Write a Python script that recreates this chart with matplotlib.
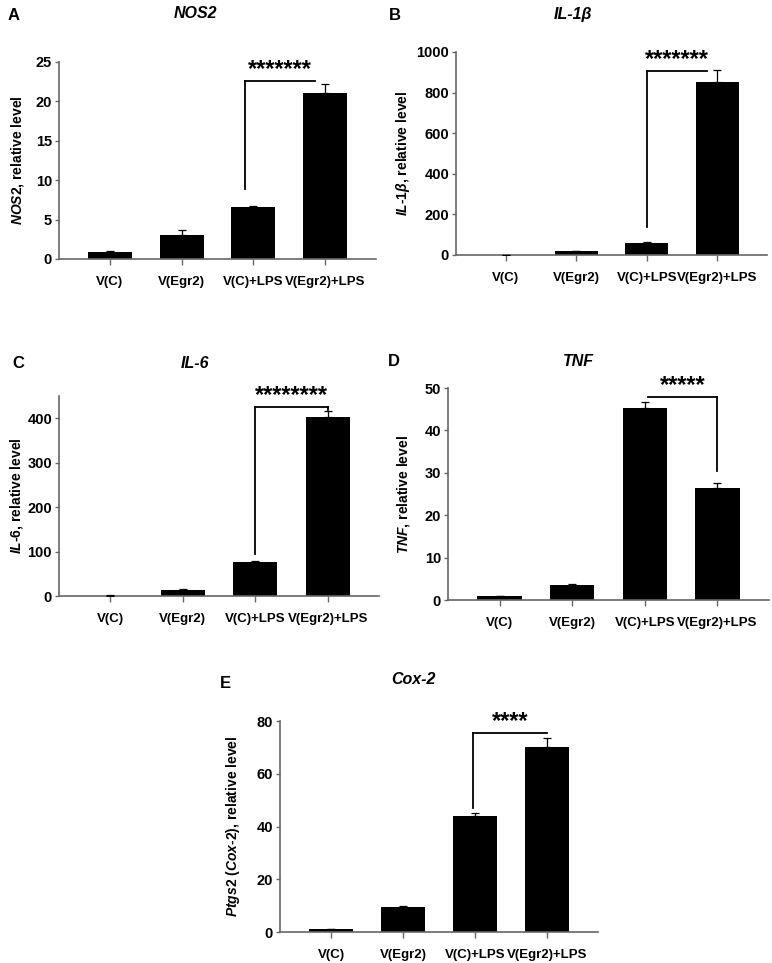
import numpy as np
import matplotlib
matplotlib.use("Agg")
import matplotlib.pyplot as plt

plt.rcParams['font.family'] = ['Liberation Sans', 'DejaVu Sans']
plt.rcParams['font.weight'] = 'bold'
plt.rcParams['mathtext.fontset'] = 'custom'
plt.rcParams['mathtext.it'] = 'Liberation Sans:italic:bold'
plt.rcParams['mathtext.rm'] = 'Liberation Sans:bold'
plt.rcParams['mathtext.bf'] = 'Liberation Sans:bold'

W, H = 772, 963

# data
groups = ['V(C)', 'V(Egr2)', 'V(C)+LPS', 'V(Egr2)+LPS']
nos2 = [0.93, 3.1, 6.55, 21.1]
nos2_err = [0.05, 0.6, 0.12, 1.05]
il1b = [1.0, 20, 60, 850]
il1b_err = [0.5, 2, 4, 60]
il6 = [1.0, 14, 76, 403]
il6_err = [0.2, 1.5, 3, 14]
tnf = [1.0, 3.6, 45.2, 26.4]
tnf_err = [0.05, 0.15, 1.4, 1.1]
cox2 = [1.1, 9.5, 44.0, 70.0]
cox2_err = [0.1, 0.5, 1.0, 3.7]

panels = [
    # letter, title, ylabel, values, errors, ylim, yticks, stars, bracket (x0, x1, ytop, y_left, y_right)
    ('A', 'NOS2', r'$\it{NOS2}$, relative level', nos2, nos2_err, 25, np.arange(0, 26, 5),
     '*******', (1.89, 2.86, 22.6, 8.9, None)),
    ('B', 'IL-1β', r'$\it{IL}$-$\it{1β}$, relative level', il1b, il1b_err, 1000, np.arange(0, 1001, 200),
     '*******', (2.0, 2.86, 907, 138, None)),
    ('C', 'IL-6', r'$\it{IL}$-$\it{6}$, relative level', il6, il6_err, 450, np.arange(0, 401, 100),
     '********', (2.0, 3.0, 425, 94, 418)),
    ('D', 'TNF', r'$\it{TNF}$, relative level', tnf, tnf_err, 50, np.arange(0, 51, 10),
     '*****', (2.04, 3.0, 47.9, None, 30.4)),
    ('E', 'Cox-2', r'$\it{Ptgs2}$ $\it{(Cox}$-$\it{2)}$, relative level', cox2, cox2_err, 80, np.arange(0, 81, 20),
     '****', (1.97, 3.0, 75.6, 47, None)),
]

# pixel boxes: left, right, top, bottom ; ylabel x ; letter (x, y) ; title (x, y)
boxes = [
    ((59, 376, 62, 259), 18, (14, 15), (195, 13)),
    ((456, 767, 52, 255), 403, (395, 15), (573, 15)),
    ((59, 379, 396, 596), 17, (18, 363), (195, 363)),
    ((448, 769, 388, 600), 404, (394, 362), (578, 362)),
    ((280, 598, 721, 932), 233, (225, 683), (413, 680)),
]

fig = plt.figure(figsize=(W / 100, H / 100), dpi=100)

def fx(px):
    return px / W

def fy(py):
    return 1 - py / H

x = np.arange(len(groups))
for (letter, title, ylabel, vals, errs, ytop, yticks, stars, br), (box, ylx, lpos, tpos) in zip(panels, boxes):
    l, r, t, b = box
    ax = fig.add_axes([fx(l), fy(b), fx(r - l), (b - t) / H])
    ax.bar(x, vals, width=0.61, color='black', zorder=2)
    ax.errorbar(x, vals, yerr=[np.zeros(len(errs)), errs], fmt='none', ecolor='black',
                elinewidth=0.9, capsize=3, capthick=0.9, zorder=3)
    ax.set_xlim(-0.71, 3.71)
    ax.set_ylim(0, ytop)
    ax.set_yticks(yticks)
    ax.set_xticks(x)
    ax.set_xticklabels(groups, fontsize=9.5, fontweight='bold')
    ax.tick_params(axis='y', labelsize=10.5, length=3, width=1, color='#666666', pad=2)
    ax.tick_params(axis='x', length=4, width=1, color='#666666', pad=8)
    for s in ['top', 'right']:
        ax.spines[s].set_visible(False)
    for s in ['left', 'bottom']:
        ax.spines[s].set_color('#666666')
        ax.spines[s].set_linewidth(1.2)

    # significance bracket
    x0, x1, yt, yl, yr = br
    ax.plot([x0, x1], [yt, yt], color='black', lw=1.3, zorder=4, clip_on=False)
    if yl is not None:
        ax.plot([x0, x0], [yl, yt], color='black', lw=1.3, zorder=4, clip_on=False)
    if yr is not None:
        ax.plot([x1, x1], [yr, yt], color='black', lw=1.3, zorder=4, clip_on=False)
    ax.text((x0 + x1) / 2, yt, stars, ha='center', va='bottom', fontsize=17,
            fontweight='bold')

    fig.text(fx(ylx), fy((t + b) / 2), ylabel, rotation=90, ha='center', va='center',
             fontsize=10, fontweight='bold')
    fig.text(fx(lpos[0]), fy(lpos[1]), letter, ha='center', va='center', fontsize=12,
             fontweight='bold')
    fig.text(fx(tpos[0]), fy(tpos[1]), title, ha='center', va='center', fontsize=11.5,
             fontweight='bold', fontstyle='italic')

fig.savefig('out.png', dpi=100)
